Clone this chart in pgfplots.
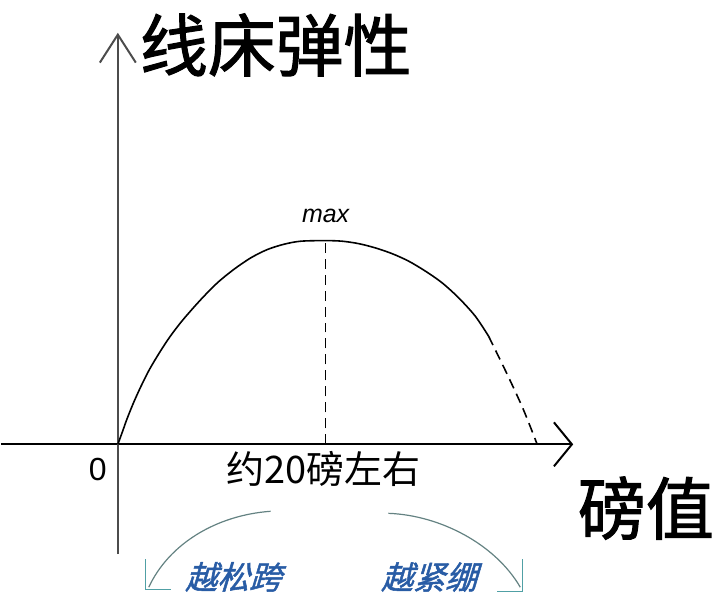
\documentclass[border=0pt]{standalone}
\usepackage{pgfplots}
\pgfplotsset{compat=1.18}
\usetikzlibrary{arrows.meta}
\usepackage{fontspec}
\setmainfont{Liberation Sans}
\newfontfamily\cjk{Noto Sans CJK SC}
\newfontfamily\cjkfb{Noto Sans CJK SC}[FakeBold=1.6]

\definecolor{labelblue}{RGB}{40,92,165}
\definecolor{arcgray}{RGB}{100,130,130}
\definecolor{tipteal}{RGB}{80,160,165}

\begin{document}
\begin{tikzpicture}
\begin{axis}[
    width=362pt, height=300pt, scale only axis,
    xmin=-11.25, xmax=58.37, ymin=-7.60, ymax=21.81,
    hide axis, clip=false,
    ]
% canvas
\path (rel axis cs:0,0) rectangle (rel axis cs:1,1);

% axes
\addplot[black, line width=1pt, -{Straight Barb[length=9pt,width=22pt,line width=1pt]}]
    coordinates {(-11.25,0) (43.85,0)};
\addplot[black!70, line width=1pt, -{Straight Barb[length=14pt,width=18pt,line width=1pt]}]
    coordinates {(0,-5.39) (0,20.2)};

% elasticity vs tension
\addplot[smooth, black, line width=0.8pt] coordinates {
    (0,0) (0.41,0.57) (0.87,1.23) (1.51,2.04) (2.24,2.86) (3.05,3.68)
    (4.01,4.50) (5.03,5.29) (6.25,6.10) (7.98,7.10) (9.59,7.93)
    (11.18,8.59) (12.79,9.15) (14.39,9.56) (15.99,9.82) (17.60,9.97)
    (20,10) (21.61,9.97) (23.2,9.85) (24.81,9.64) (26.41,9.36)
    (28.01,8.99) (29.62,8.50) (31.22,7.93) (32.82,7.19) (34.42,6.29)
    (35.70,5.31)
};
\addplot[smooth, black, line width=0.8pt, dash pattern=on 5pt off 3pt] coordinates {
    (35.70,5.31) (37.5,3.43) (39.04,1.72) (40.38,0)
};
\addplot[black, line width=0.8pt, dash pattern=on 5pt off 3pt] coordinates {
    (20,0) (20,10)
};

% labels
\node[font=\cjkfb\fontsize{34}{38}\selectfont] at (rel axis cs:0.380,0.925) {线床弹性};
\node[font=\cjkfb\fontsize{34}{38}\selectfont] at (rel axis cs:0.892,0.152) {磅值};
\node[font=\itshape\fontsize{12.5}{14}\selectfont] at (rel axis cs:0.449,0.640) {max};
\node[font=\fontsize{16}{18}\selectfont] at (rel axis cs:0.134,0.217) {0};
\node[font=\cjk\fontsize{19}{22}\selectfont] at (rel axis cs:0.446,0.217) {约20磅左右};

\node[font=\cjkfb\fontsize{16}{19}\selectfont, text=labelblue, xslant=0.3]
    at (rel axis cs:0.326,0.037) {越松跨};
\node[font=\cjkfb\fontsize{16}{19}\selectfont, text=labelblue, xslant=0.3]
    at (rel axis cs:0.597,0.037) {越紧绷};

% arcs
\draw[arcgray, line width=0.6pt] (rel axis cs:0.3729,0.1467)
    .. controls (rel axis cs:0.2970,0.14) and (rel axis cs:0.2320,0.0917)
    .. (rel axis cs:0.2044,0.02);
\draw[tipteal, line width=0.6pt] (rel axis cs:0.2003,0.0667)
    -- (rel axis cs:0.2003,0.0167) -- (rel axis cs:0.2348,0.0167);
\draw[arcgray, line width=0.6pt] (rel axis cs:0.5359,0.1433)
    .. controls (rel axis cs:0.6077,0.14) and (rel axis cs:0.6837,0.0917)
    .. (rel axis cs:0.7182,0.02);
\draw[tipteal, line width=0.6pt] (rel axis cs:0.7210,0.0667)
    -- (rel axis cs:0.7210,0.0133) -- (rel axis cs:0.6865,0.0133);
\end{axis}
\end{tikzpicture}
\end{document}
